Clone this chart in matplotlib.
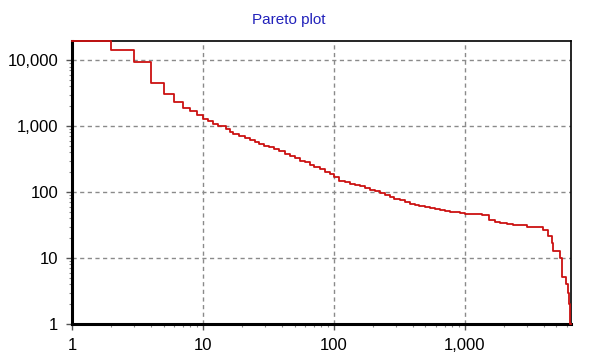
import numpy as np
import matplotlib
matplotlib.use("Agg")
import matplotlib.pyplot as plt
from matplotlib.ticker import FuncFormatter, LogLocator, NullFormatter

# rank where each step starts, and the value held until the next rank
ranks = [1, 2, 3, 4, 5, 6, 7, 8, 9, 10,
         11, 12, 13, 15, 16, 17, 19, 21, 23, 25,
         27, 29, 32, 35, 38, 42, 46, 50, 55, 60,
         66, 71, 78, 85, 93, 101, 110, 121, 132, 145,
         157, 172, 187, 205, 223, 245, 266, 290, 318, 347,
         380, 414, 450, 493, 540, 589, 645, 702, 770, 837,
         915, 998, 1150, 1350, 1540, 1700, 1860, 2100, 2350, 2650,
         2960, 3960, 4340, 4600, 4740, 5350, 5500, 5950, 6080, 6210,
         6400, 6460]
values = [19400, 14100, 9400, 4550, 3030, 2310, 1910, 1670, 1450, 1290,
          1175, 1084, 996, 909, 827, 764, 702, 654, 610, 569,
          538, 507, 477, 451, 415, 379, 350, 324, 300, 282,
          258, 237, 220, 204, 185, 167, 149, 140, 132, 127,
          122, 115, 108, 102, 96.6, 89, 82.8, 79, 75.5, 70,
          67, 64, 61.9, 59, 57.1, 55, 53.2, 52, 50.7, 49.5,
          48.4, 47.2, 46.2, 45.5, 38, 35.7, 34.2, 33, 32.2, 31.2,
          30, 26.5, 21.6, 17, 13, 10, 5.1, 4, 3, 2,
          1, 1]

title = "Pareto plot"
x_ticks = [1, 10, 100, 1000]
y_ticks = [1, 10, 100, 1000, 10000]

plt.rcParams['font.family'] = ['Liberation Sans', 'DejaVu Sans']

fig = plt.figure(figsize=(5.94, 3.58), dpi=100)
ax = fig.add_axes([72 / 594, 1 - 324 / 358, (571 - 72) / 594, (324 - 41) / 358])

ax.step(ranks, values, where='post', color='#cc1111', lw=1.3, zorder=3, clip_on=False)

ax.set_xscale('log')
ax.set_yscale('log')
ax.set_xlim(1, 6460)
ax.set_ylim(1, 19500)

fmt = FuncFormatter(lambda v, _: f"{v:,.0f}")
ax.set_xticks(x_ticks)
ax.set_yticks(y_ticks)
ax.xaxis.set_major_formatter(fmt)
ax.yaxis.set_major_formatter(fmt)
ax.xaxis.set_minor_locator(LogLocator(base=10, subs=np.arange(2, 10)))
ax.yaxis.set_minor_locator(LogLocator(base=10, subs=np.arange(2, 10)))
ax.xaxis.set_minor_formatter(NullFormatter())
ax.yaxis.set_minor_formatter(NullFormatter())

ax.tick_params(which='major', direction='out', length=4, width=1, color='#555555',
               labelsize=12, pad=6)
ax.tick_params(which='minor', direction='out', length=2, width=0.8, color='#888888')

ax.grid(which='major', color='#8a8a8a', linestyle=(0, (3, 2.5)), linewidth=1, zorder=1)

for side in ['left', 'bottom']:
    ax.spines[side].set_linewidth(2.2)
for side in ['top', 'right']:
    ax.spines[side].set_linewidth(1.2)

fig.text(289 / 594, 1 - 20 / 358, title, color='#2222bb', fontsize=11,
         ha='center', va='center')

fig.savefig("out.png", dpi=100)
